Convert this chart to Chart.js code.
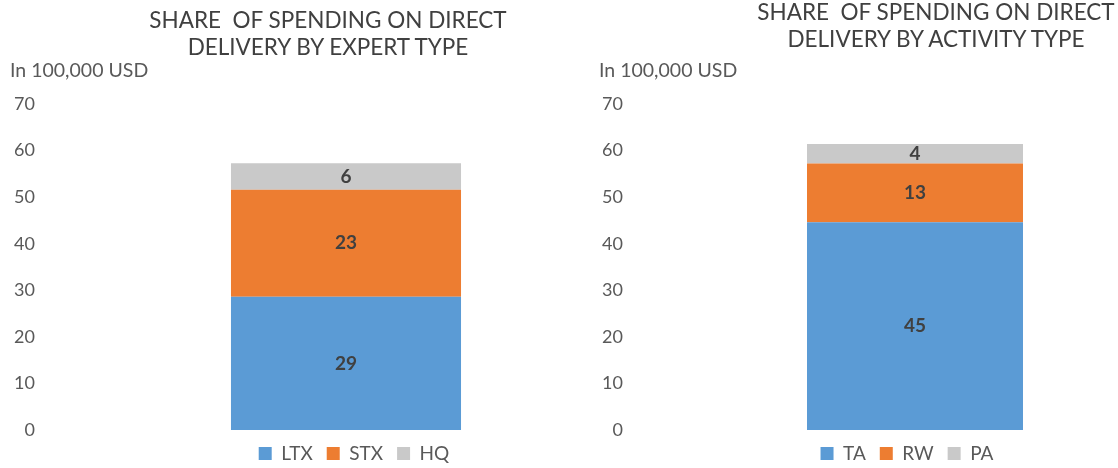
<!DOCTYPE html>
<html>
<head>
<meta charset="utf-8">
<script src="https://cdn.jsdelivr.net/npm/chart.js@4.4.1/dist/chart.umd.min.js"></script>
<style>
  html, body { margin: 0; padding: 0; background: #fff; font-family: Lato, sans-serif; overflow: hidden; }
  .panel { position: absolute; top: 0; width: 559px; height: 468px; }
  .title { position: absolute; width: 500px; text-align: center; font-size: 22.5px; line-height: 27px; color: #404040; white-space: nowrap; }
  .unit { position: absolute; font-size: 19.5px; line-height: 24px; color: #595959; }
</style>
</head>
<body>
<div class="panel" style="left:0">
  <canvas id="expertChart"></canvas>
</div>
<div class="panel" style="left:559px">
  <canvas id="activityChart"></canvas>
</div>
<div class="title" style="left:78px;top:6px">SHARE&nbsp; OF SPENDING ON DIRECT<br>DELIVERY BY EXPERT TYPE</div>
<div class="title" style="left:686px;top:-2px">SHARE&nbsp; OF SPENDING ON DIRECT<br>DELIVERY BY ACTIVITY TYPE</div>
<div class="unit" style="left:10px;top:58px">In 100,000 USD</div>
<div class="unit" style="left:599px;top:58px">In 100,000 USD</div>

<script>
// values in 100,000 USD
const expertTypes = ['LTX', 'STX', 'HQ'];
const expertValues = [28.6, 23.0, 5.7];

const activityTypes = ['TA', 'RW', 'PA'];
const activityValues = [44.6, 12.6, 4.2];

const segmentColors = ['#5B9BD5', '#ED7D31', '#C9C9C9'];
const yMax = 70;
const yStep = 10;

const segmentLabels = {
  id: 'segmentLabels',
  afterDatasetsDraw(chart) {
    const ctx = chart.ctx;
    ctx.save();
    ctx.font = 'bold 19px Lato';
    ctx.fillStyle = '#404040';
    ctx.textAlign = 'center';
    ctx.textBaseline = 'middle';
    chart.data.datasets.forEach((ds, i) => {
      const bar = chart.getDatasetMeta(i).data[0];
      ctx.fillText(Math.round(ds.data[0]), bar.x, (bar.y + bar.base) / 2);
    });
    ctx.restore();
  }
};

// nudge the legend sideways a little, like the original
const legendShift = {
  id: 'legendShift',
  afterLayout(chart, args, opts) {
    if (!chart.legend) return;
    chart.legend.left += opts.dx || 0;
    chart.legend.right += opts.dx || 0;
  }
};

function makeChart(id, names, values, opts) {
  const datasets = names.map((name, i) => ({
    label: name,
    data: [values[i]],
    backgroundColor: segmentColors[i],
    barPercentage: opts.barPct,
    categoryPercentage: 1
  }));

  return new Chart(document.getElementById(id), {
    type: 'bar',
    data: { labels: [''], datasets },
    options: {
      responsive: true,
      maintainAspectRatio: false,
      animation: false,
      layout: { padding: { top: 104, left: 0, right: 0, bottom: 0 } },
      plugins: {
        legend: {
          position: 'bottom',
          fullSize: false,
          maxHeight: 38,
          labels: {
            boxWidth: 13,
            boxHeight: 13,
            padding: 14,
            color: '#595959',
            font: { family: 'Lato', size: 19 }
          }
        },
        legendShift: { dx: opts.legendDx },
        tooltip: { enabled: false }
      },
      scales: {
        x: { stacked: true, display: false },
        y: {
          stacked: true,
          min: 0,
          max: yMax,
          border: { display: false },
          grid: { display: false, drawTicks: false },
          ticks: {
            stepSize: yStep,
            padding: opts.tickPad,
            color: '#595959',
            font: { family: 'Lato', size: 18 }
          },
          afterFit(scale) {
            scale.width = opts.axisWidth;
            scale.paddingTop = 0;
            scale.paddingBottom = 0;
          }
        }
      }
    },
    plugins: [segmentLabels, legendShift]
  });
}

makeChart('expertChart', expertTypes, expertValues, { axisWidth: 133, tickPad: 98, barPct: 0.54, legendDx: 8 });
makeChart('activityChart', activityTypes, activityValues, { axisWidth: 153, tickPad: 89, barPct: 0.532, legendDx: -8 });
</script>
</body>
</html>
